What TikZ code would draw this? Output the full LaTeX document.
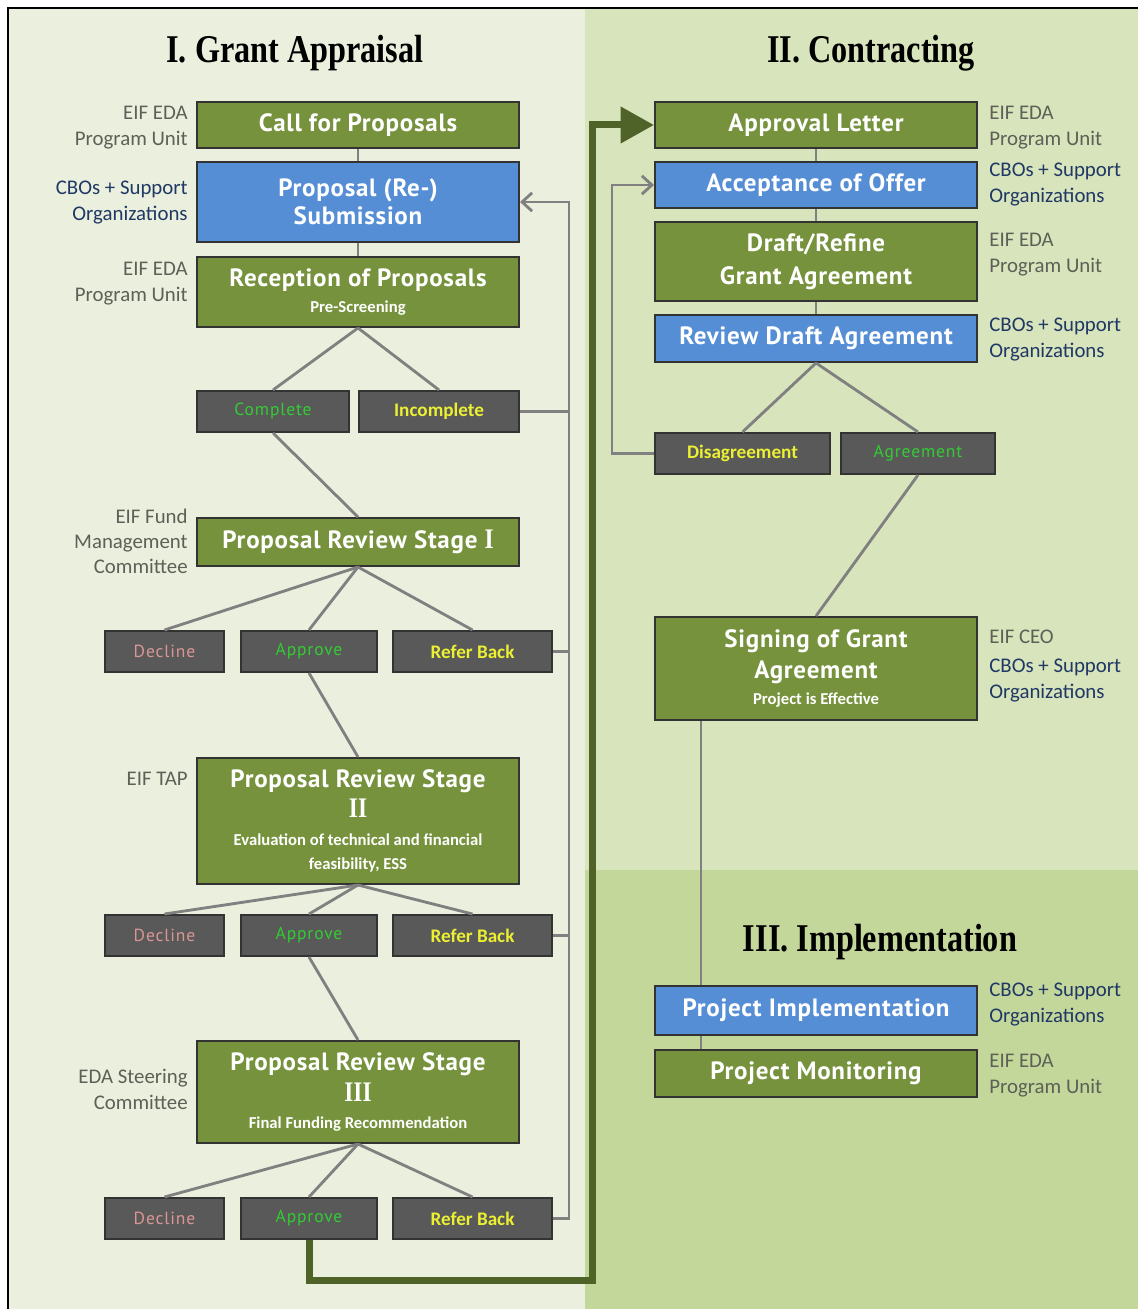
\documentclass[tikz,border=0pt]{standalone}
\definecolor{boxgreen}{RGB}{118,146,60}
\definecolor{boxblue}{RGB}{85,142,213}
\definecolor{decgrey}{RGB}{89,89,89}
\definecolor{linegrey}{RGB}{128,128,128}
\definecolor{arrowgreen}{RGB}{79,98,40}
\definecolor{bgleft}{RGB}{235,240,222}
\definecolor{bgtop}{RGB}{216,228,188}
\definecolor{bgbot}{RGB}{196,215,155}
\definecolor{lblgrey}{RGB}{92,96,86}
\definecolor{lblblue}{RGB}{31,56,100}
\definecolor{txtgreen}{RGB}{50,205,50}
\definecolor{txtyellow}{RGB}{235,240,50}
\definecolor{txtpink}{RGB}{217,150,148}
\usepackage{fontspec}
\setmainfont{Carlito}
\newfontfamily\boxfont[LetterSpace=3]{PT Sans}
\newfontfamily\decfont[LetterSpace=5]{PT Sans}
\newfontfamily\titlefont[FakeStretch=0.82]{Liberation Serif}
\usepackage{tikz}
\usetikzlibrary{
	arrows.meta,
	positioning
}
\newcommand{\subtxt}{\normalfont\bfseries\fontsize{10}{12}\selectfont}
\newcommand{\romtxt}{\titlefont\bfseries\fontsize{17}{17}\selectfont}
\tikzset{
  % box
	cstbox/.style    ={draw=black!80, line width=1.2pt, text=white, minimum width=193.2pt, align=center, inner sep=0pt, font=\boxfont\bfseries\fontsize{15}{17}\selectfont},
	cstgreen/.style  ={cstbox, fill=boxgreen},
	cstblue/.style   ={cstbox, fill=boxblue},
	cstdec/.style    ={draw=black!80, line width=1.2pt, fill=decgrey, minimum height=24.6pt, inner sep=0pt},
	cstdecn/.style   ={cstdec, font=\decfont\fontsize{10.5}{12}\selectfont},
	cstdecb/.style   ={cstdec, font=\bfseries\fontsize{11.5}{12}\selectfont},
  % label
	cstlblr/.style   ={align=right, inner sep=0pt, font=\fontsize{12.5}{15.6}\selectfont},
	cstlbll/.style   ={align=left, inner sep=0pt, font=\fontsize{12.5}{15.6}\selectfont},
	csttitle/.style  ={inner sep=0pt, font=\titlefont\bfseries\fontsize{23.6}{28}\selectfont},
  % line
	cstline/.style   ={draw=linegrey, line width=1.7pt},
	cstback/.style   ={cstline, -{Straight Barb[length=6pt,width=11pt]}},
	cstbig/.style    ={draw=arrowgreen, line width=4.2pt, -{Triangle[length=20pt,width=21pt]}}
}
\begin{document}
\begin{tikzpicture}[x=0.6pt,y=-0.6pt]
	\useasboundingbox (0,0) rectangle (1138,1309);
	% panels
	\fill[bgleft] (8,8) rectangle (585,1309);
	\fill[bgtop] (585,8) rectangle (1138,870);
	\fill[bgbot] (585,870) rectangle (1138,1309);
	\draw[line width=1.4pt] (8,1309) -- (8,8) -- (1138,8);
	% titles
	\node[csttitle] (tappr) at (295,53) {I. Grant Appraisal};
	\node[csttitle] (tcontr) at (871,53) {II. Contracting};
	\node[csttitle] (timpl) at (880,942) {III. Implementation};
	% grant appraisal
	\node[cstgreen, minimum height=27.6pt] (call) at (358,125) {Call for Proposals};
	\node[cstblue, minimum height=48pt] (sub) at (358,202) {Proposal (Re-)\\Submission};
	\node[cstgreen, minimum height=42pt] (recep) at (358,292) {Reception of Proposals\\[-1pt]{\subtxt Pre-Screening}};
	\node[cstdecn, minimum width=91.2pt, text=txtgreen] (comp) at (273,411.5) {Complete};
	\node[cstdecb, minimum width=96pt, text=txtyellow] (incomp) at (439,411.5) {Incomplete};
	\node[cstgreen, minimum height=28.8pt] (rev1) at (358,542) {Proposal Review Stage {\romtxt I}};
	\node[cstdecn, minimum width=71.4pt, text=txtpink] (dec1) at (164.5,651.5) {Decline};
	\node[cstdecn, minimum width=81.6pt, text=txtgreen] (app1) at (309,651.5) {Approve};
	\node[cstdecb, minimum width=95.4pt, text=txtyellow] (ref1) at (472.5,651.5) {Refer Back};
	\node[cstgreen, minimum height=75.6pt] (rev2) at (358,821) {Proposal Review Stage\\[1pt]{\romtxt II}\\{\subtxt Evaluation of technical and financial}\\[-2.6pt]{\subtxt feasibility, ESS}};
	\node[cstdecn, minimum width=71.4pt, text=txtpink] (dec2) at (164.5,935.5) {Decline};
	\node[cstdecn, minimum width=81.6pt, text=txtgreen] (app2) at (309,935.5) {Approve};
	\node[cstdecb, minimum width=95.4pt, text=txtyellow] (ref2) at (472.5,935.5) {Refer Back};
	\node[cstgreen, minimum height=61.2pt] (rev3) at (358,1092) {Proposal Review Stage\\[1.5pt]{\romtxt III}\\[-1pt]{\subtxt Final Funding Recommendation}};
	\node[cstdecn, minimum width=71.4pt, text=txtpink] (dec3) at (164.5,1218.5) {Decline};
	\node[cstdecn, minimum width=81.6pt, text=txtgreen] (app3) at (309,1218.5) {Approve};
	\node[cstdecb, minimum width=95.4pt, text=txtyellow] (ref3) at (472.5,1218.5) {Refer Back};
	% contracting
	\node[cstgreen, minimum height=27.6pt] (approval) at (816,125) {Approval Letter};
	\node[cstblue, minimum height=27.6pt] (accept) at (816,185) {Acceptance of Offer};
	\node[cstgreen, minimum height=47.4pt] (draft) at (816,261.5) {Draft/Refine\\[3pt]Grant Agreement};
	\node[cstblue, minimum height=28.2pt] (review) at (816,338.5) {Review Draft Agreement};
	\node[cstdecb, minimum width=105pt, text=txtyellow] (disagree) at (742.5,453.5) {Disagreement};
	\node[cstdecn, minimum width=92.4pt, text=txtgreen] (agree) at (918,453.5) {Agreement};
	\node[cstgreen, minimum height=61.8pt] (signing) at (816,668.5) {Signing of Grant\\[1.5pt]Agreement\\[-1.5pt]{\subtxt Project is Effective}};
	% implementation
	\node[cstblue, minimum height=29.4pt] (impl) at (816,1010.5) {Project Implementation};
	\node[cstgreen, minimum height=28.2pt] (monit) at (816,1073.5) {Project Monitoring};
	% side labels
	\node[cstlblr, text=lblgrey, left=4.8pt of call, yshift=-1.8pt] (lcall) {EIF EDA\\Program Unit};
	\node[cstlblr, text=lblblue, left=4.8pt of sub, yshift=-0.6pt] (lsub) {CBOs + Support\\Organizations};
	\node[cstlblr, text=lblgrey, left=4.8pt of recep, yshift=4.8pt] (lrecep) {EIF EDA\\Program Unit};
	\node[cstlblr, text=lblgrey, left=4.8pt of rev1, yshift=0.6pt, font=\fontsize{12.5}{15}\selectfont] (lrev1) {EIF Fund\\Management\\Committee};
	\node[cstlblr, text=lblgrey, left=4.8pt of rev2, yshift=25.2pt] (lrev2) {EIF TAP};
	\node[cstlblr, text=lblgrey, left=4.8pt of rev3, yshift=1.8pt] (lrev3) {EDA Steering\\Committee};
	\node[cstlbll, text=lblgrey, right=6.6pt of approval, yshift=-1.8pt] (rapproval) {EIF EDA\\Program Unit};
	\node[cstlbll, text=lblblue, right=6.6pt of accept] (raccept) {CBOs + Support\\Organizations};
	\node[cstlbll, text=lblgrey, right=6.6pt of draft, yshift=3.9pt] (rdraft) {EIF EDA\\Program Unit};
	\node[cstlbll, text=lblblue, right=6.6pt of review, yshift=-0.9pt] (rreview) {CBOs + Support\\Organizations};
	\node[cstlbll, text=lblgrey, right=6.6pt of signing, yshift=18.9pt] (rsignceo) {EIF CEO};
	\node[cstlbll, text=lblblue, right=6.6pt of signing, yshift=-7.5pt] (rsigncbo) {CBOs + Support\\Organizations};
	\node[cstlbll, text=lblblue, right=6.6pt of impl, yshift=3.3pt] (rimpl) {CBOs + Support\\Organizations};
	\node[cstlbll, text=lblgrey, right=6.6pt of monit, yshift=-1.5pt] (rmonit) {EIF EDA\\Program Unit};
	% connectors, appraisal
	\draw[cstline] (call) -- (sub);
	\draw[cstline] (sub) -- (recep);
	\draw[cstline] (recep.south) -- (comp.north);
	\draw[cstline] (recep.south) -- (incomp.north);
	\draw[cstline] (comp.south) -- (rev1.north);
	\draw[cstline] (rev1.south) -- (dec1.north);
	\draw[cstline] (rev1.south) -- (app1.north);
	\draw[cstline] (rev1.south) -- (ref1.north);
	\draw[cstline] (app1.south) -- (rev2.north);
	\draw[cstline] (rev2.south) -- (dec2.north);
	\draw[cstline] (rev2.south) -- (app2.north);
	\draw[cstline] (rev2.south) -- (ref2.north);
	\draw[cstline] (app2.south) -- (rev3.north);
	\draw[cstline] (rev3.south) -- (dec3.north);
	\draw[cstline] (rev3.south) -- (app3.north);
	\draw[cstline] (rev3.south) -- (ref3.north);
	% refer back
	\coordinate (fbtop) at (569,202);
	\draw[cstback] (ref3.east) -| (fbtop) -- (sub.east);
	\draw[cstline] (incomp.east) -- (incomp.east -| fbtop);
	\draw[cstline] (ref1.east) -- (ref1.east -| fbtop);
	\draw[cstline] (ref2.east) -- (ref2.east -| fbtop);
	% connectors, contracting
	\draw[cstline] (approval) -- (accept);
	\draw[cstline] (accept) -- (draft);
	\draw[cstline] (draft) -- (review);
	\draw[cstline] (review.south) -- (disagree.north);
	\draw[cstline] (review.south) -- (agree.north);
	\draw[cstline] (agree.south) -- (signing.north);
	\coordinate (rbtop) at (612,185);
	\draw[cstback] (disagree.west) -| (rbtop) -- (accept.west);
	\draw[cstline] ([xshift=28.2pt]signing.south west) -- ([xshift=28.2pt]impl.north west);
	\draw[cstline] ([xshift=28.2pt]impl.south west) -- ([xshift=28.2pt]monit.north west);
	% approval to contracting
	\coordinate (bgturn) at (592,1280);
	\draw[cstbig] (app3.south) |- (bgturn) |- (approval.west);
\end{tikzpicture}
\end{document}
